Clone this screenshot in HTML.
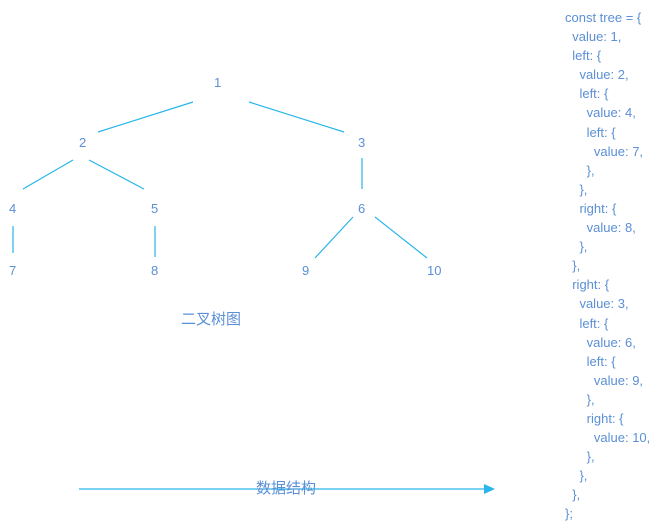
<!DOCTYPE html>
<html><head><meta charset="utf-8"><style>
body{margin:0;width:666px;height:531px;background:#fff;overflow:hidden;position:relative;font-family:"Liberation Sans","Noto Sans CJK SC",sans-serif;}
.t{position:absolute;color:#5b8fd6;font-size:13px;line-height:1;}
.code{position:absolute;left:565px;top:8px;color:#5b8fd6;font-size:13px;line-height:19.1px;white-space:pre;}
</style></head><body>
<svg width="666" height="531" style="position:absolute;left:0;top:0">
<g stroke="#29b6ea" stroke-width="1.2" fill="none">
<line x1="193" y1="102" x2="98" y2="132"/>
<line x1="249" y1="102" x2="344" y2="132"/>
<line x1="73" y1="160" x2="23" y2="189"/>
<line x1="89" y1="160" x2="144" y2="189"/>
<line x1="362" y1="158" x2="362" y2="189"/>
<line x1="353" y1="217" x2="315" y2="258"/>
<line x1="375" y1="217" x2="427" y2="258"/>
<line x1="13" y1="226" x2="13" y2="253"/>
<line x1="155" y1="226" x2="155" y2="257"/>
<line x1="79" y1="489" x2="486" y2="489"/>
</g>
<polygon points="495,489 484,484 484,494" fill="#29b6ea"/>
</svg>
<div class="t" style="left:214px;top:76px">1</div>
<div class="t" style="left:79px;top:136px">2</div>
<div class="t" style="left:358px;top:136px">3</div>
<div class="t" style="left:9px;top:202px">4</div>
<div class="t" style="left:151px;top:202px">5</div>
<div class="t" style="left:358px;top:202px">6</div>
<div class="t" style="left:9px;top:264px">7</div>
<div class="t" style="left:151px;top:264px">8</div>
<div class="t" style="left:302px;top:264px">9</div>
<div class="t" style="left:427px;top:264px">10</div>
<div class="t" style="left:181px;top:312px;font-size:15px">二叉树图</div>
<div class="t" style="left:256px;top:481px;font-size:15px">数据结构</div>
<div class="code">const tree = {
  value: 1,
  left: {
    value: 2,
    left: {
      value: 4,
      left: {
        value: 7,
      },
    },
    right: {
      value: 8,
    },
  },
  right: {
    value: 3,
    left: {
      value: 6,
      left: {
        value: 9,
      },
      right: {
        value: 10,
      },
    },
  },
};</div>
</body></html>
